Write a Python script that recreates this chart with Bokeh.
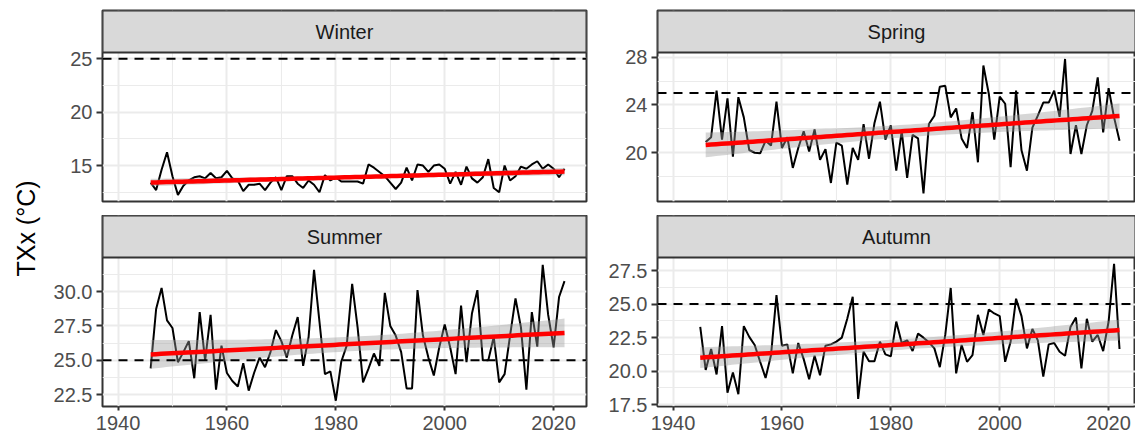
import numpy as np
from bokeh.plotting import figure
from bokeh.layouts import row, column
from bokeh.models import FixedTicker, PrintfTickFormatter, Span, Label, Grid, BoxAnnotation
from bokeh.embed import file_html
from bokeh.resources import INLINE

# ---------------- data ----------------
seasons = ["Winter", "Spring", "Summer", "Autumn"]
threshold = 25.0

winter_years = list(range(1946, 2023))
winter_txx = [13.4, 12.7, 14.6, 16.25,
              14.0, 12.25, 13.1, 13.6, 13.9, 14.0, 13.8, 14.3, 13.8, 13.9,
              14.5, 13.8, 13.6, 12.6, 13.2, 13.2, 13.3, 12.7, 13.4, 13.9,
              12.7, 14.0, 14.0, 13.3, 12.9, 13.6, 13.2, 12.5, 14.1, 13.6,
              13.9, 13.5, 13.5, 13.5, 13.5, 13.3, 15.1, 14.8, 14.4, 14.0,
              13.4, 12.8, 13.4, 14.8, 13.6, 15.1, 15.0, 14.4, 15.0, 15.1,
              14.7, 13.3, 14.4, 13.2, 14.9, 13.8, 13.4, 13.9, 15.6, 12.9,
              12.5, 15.0, 13.6, 14.0, 14.9, 14.7, 15.1, 15.4, 14.7, 15.1,
              14.7, 13.9, 14.7]

spring_years = list(range(1946, 2023))
spring_txx = [20.9, 21.3, 25.2, 21.1,
              24.55, 19.67, 24.65, 22.96, 20.23, 20.0, 19.95, 21.0, 20.6, 24.27,
              20.4, 21.3, 18.73, 20.4, 21.8, 20.1, 21.95, 19.4, 20.3, 17.47,
              20.85, 20.6, 17.33, 20.4, 19.4, 22.4, 19.5, 22.5, 24.27, 21.1,
              22.3, 18.5, 21.8, 17.9, 21.5, 21.2, 16.6, 22.4, 23.1, 25.53,
              25.6, 22.96, 23.7, 21.2, 20.4, 23.4, 19.2, 27.3, 24.92, 21.1,
              24.7, 24.1, 18.8, 25.2, 20.2, 18.5, 22.1, 23.1, 24.2, 24.2,
              25.2, 23.0, 27.85, 19.9, 22.3, 19.9, 22.3, 23.5, 26.3, 21.7,
              25.4, 22.96, 21.0]

summer_years = list(range(1946, 2023))
summer_txx = [24.42, 28.73, 30.26, 27.9,
              27.35, 24.87, 25.6, 26.4, 23.7, 28.5, 25.0, 28.3, 22.87, 26.07,
              24.08, 23.5, 23.1, 24.8, 22.8, 24.1, 25.2, 24.5, 25.6, 27.2,
              26.4, 25.2, 26.8, 28.15, 24.6, 26.7, 31.57, 27.8, 24.0, 24.2,
              22.07, 24.9, 26.07, 30.55, 27.4, 23.4, 24.4, 25.5, 24.6, 29.9,
              27.5, 26.8, 25.6, 22.96, 22.96, 30.1, 26.8, 25.2, 23.9, 25.95,
              27.6, 25.95, 24.0, 28.98, 24.87, 28.4, 30.1, 25.0, 25.0, 26.7,
              23.4, 24.0, 26.8, 29.5, 27.4, 22.87, 28.5, 26.0, 31.93, 28.3,
              25.95, 29.6, 30.75]

autumn_years = list(range(1945, 2023))
autumn_txx = [23.31, 20.09, 21.65, 19.76, 23.36,
              18.4, 19.9, 18.28, 23.36, 22.56, 21.95, 20.7, 19.5, 21.2, 25.67,
              21.9, 22.0, 19.84, 22.1, 20.9, 19.4, 21.15, 19.7, 21.9, 22.0,
              22.2, 22.5, 23.9, 25.55, 17.93, 21.45, 20.75, 20.75, 22.2, 21.25,
              21.1, 23.7, 22.1, 22.3, 21.5, 22.8, 22.5, 22.15, 21.7, 20.3,
              22.7, 26.2, 19.84, 21.95, 20.7, 21.2, 24.2, 22.7, 24.6, 24.3,
              24.1, 20.7, 22.2, 25.4, 24.1, 21.7, 23.15, 22.3, 19.6, 22.0,
              22.1, 21.45, 21.15, 23.3, 24.0, 20.2, 23.9, 22.2, 22.7, 21.5,
              23.7, 28.0, 21.65]

x_ticks = [1940, 1960, 1980, 2000, 2020]
x_minor = [1950, 1970, 1990, 2010]

winter_yticks = [15, 20, 25]
winter_yminor = [12.5, 17.5, 22.5]
spring_yticks = [20, 24, 28]
spring_yminor = [18, 22, 26]
summer_yticks = [22.5, 25.0, 27.5, 30.0]
summer_yminor = [23.75, 26.25, 28.75, 31.25]
autumn_yticks = [17.5, 20.0, 22.5, 25.0, 27.5]
autumn_yminor = [18.75, 21.25, 23.75, 26.25]

y_title = "TXx (°C)"

# ---------------- style / layout ----------------
FONT = "Liberation Sans"
TICK_FS = "20px"
STRIP_FS = "20px"
TITLE_FS = "25px"
X_START = 1937.15
PX_PER_YEAR = 5.445
LEFT_FRAME_W = 484
RIGHT_FRAME_W = 478
FRAME_H = 149
STRIP_H = 42
LAB_W = 46


def lm_band(x, y, n_eval=80, t=1.992):
    x = np.asarray(x, float)
    y = np.asarray(y, float)
    n = len(x)
    b, a = np.polyfit(x, y, 1)
    resid = y - (a + b * x)
    s = np.sqrt(np.sum(resid ** 2) / (n - 2))
    xm = x.mean()
    sxx = np.sum((x - xm) ** 2)
    xs = np.linspace(x.min(), x.max(), n_eval)
    fit = a + b * xs
    se = s * np.sqrt(1.0 / n + (xs - xm) ** 2 / sxx)
    return xs, fit, fit - t * se, fit + t * se


def make_panel(name, years, vals, y_lo, y_hi, y_ticks, y_minor, y_fmt,
               frame_w, bl, br, bt, bb, show_x):
    x_end = X_START + frame_w / PX_PER_YEAR
    y_end = y_hi + STRIP_H * (y_hi - y_lo) / FRAME_H   # room for the facet strip
    p = figure(width=bl + frame_w + br, height=bt + STRIP_H + FRAME_H + bb,
               x_range=(X_START, x_end), y_range=(y_lo, y_end),
               x_axis_location="below" if show_x else None,
               y_axis_location="left",
               toolbar_location=None, output_backend="svg",
               min_border_left=bl, min_border_right=br,
               min_border_top=bt, min_border_bottom=bb)
    p.grid.visible = False
    p.background_fill_color = "white"
    p.border_fill_color = "white"
    p.outline_line_color = "#333333"
    p.outline_line_width = 2

    for dim, ticks, minor in ((0, x_ticks, x_minor), (1, y_ticks, y_minor)):
        g = Grid(dimension=dim, ticker=FixedTicker(ticks=ticks, minor_ticks=minor))
        g.grid_line_color = "#ebebeb"
        g.grid_line_width = 2
        g.minor_grid_line_color = "#ebebeb"
        g.minor_grid_line_width = 1.1
        p.add_layout(g)

    axes = list(p.yaxis) + (list(p.xaxis) if show_x else [])
    for ax in axes:
        ax.axis_line_color = None
        ax.major_tick_line_color = "#333333"
        ax.major_tick_line_width = 2
        ax.major_tick_in = 0
        ax.minor_tick_line_color = None
        ax.major_label_text_font = FONT
        ax.major_label_text_font_size = TICK_FS
        ax.major_label_text_color = "#4d4d4d"
    p.yaxis.ticker = FixedTicker(ticks=y_ticks)
    p.yaxis.formatter = PrintfTickFormatter(format=y_fmt)
    p.yaxis.major_tick_out = 6
    p.yaxis.major_label_standoff = 4
    if show_x:
        p.xaxis.ticker = FixedTicker(ticks=x_ticks)
        p.xaxis.major_tick_out = 4
        p.xaxis.major_label_standoff = 5

    p.line(years, vals, line_color="black", line_width=2)
    xs, fit, lo, hi = lm_band(years, vals)
    p.varea(x=xs, y1=lo, y2=hi, fill_color="#999999", fill_alpha=0.4)
    p.line(xs, fit, line_color="#ff0000", line_width=4.5)
    p.add_layout(Span(location=threshold, dimension="width", line_color="black",
                      line_width=2, line_dash="9 7"))

    # facet strip
    p.add_layout(BoxAnnotation(bottom=y_hi, fill_color="#d9d9d9", fill_alpha=1.0,
                               line_color="#333333", line_alpha=1.0, line_width=2))
    p.add_layout(Label(x=(X_START + x_end) / 2, y=(y_hi + y_end) / 2, text=name,
                       text_align="center", text_baseline="middle", text_font=FONT,
                       text_font_size=STRIP_FS, text_color="#1a1a1a"))
    return p


LB, LR = 102 - LAB_W, 8   # left column borders
RB, RR = 63, 0            # right column borders

p_w = make_panel(seasons[0], winter_years, winter_txx, 11.63, 25.59,
                 winter_yticks, winter_yminor, "%d", LEFT_FRAME_W, LB, LR, 10, 14, False)
p_su = make_panel(seasons[2], summer_years, summer_txx, 21.65, 32.47,
                  summer_yticks, summer_yminor, "%.1f", LEFT_FRAME_W, LB, LR, 0, 32, True)
p_sp = make_panel(seasons[1], spring_years, spring_txx, 15.92, 28.39,
                  spring_yticks, spring_yminor, "%d", RIGHT_FRAME_W, RB, RR, 10, 14, False)
p_au = make_panel(seasons[3], autumn_years, autumn_txx, 17.37, 28.47,
                  autumn_yticks, autumn_yminor, "%.1f", RIGHT_FRAME_W, RB, RR, 0, 32, True)

TOTAL_H = (10 + STRIP_H + FRAME_H + 14) + (STRIP_H + FRAME_H + 32)
lab = figure(width=LAB_W, height=TOTAL_H, x_range=(0, LAB_W), y_range=(0, TOTAL_H),
             x_axis_location=None, y_axis_location=None,
             toolbar_location=None, output_backend="svg",
             min_border_left=0, min_border_right=0, min_border_top=0, min_border_bottom=0)
lab.grid.visible = False
lab.outline_line_color = None
lab.add_layout(Label(x=25, y=TOTAL_H - 228, text=y_title, angle=90, angle_units="deg",
                     text_align="center", text_baseline="middle", text_font=FONT,
                     text_font_size=TITLE_FS, text_color="black"))

layout = row(lab, column(p_w, p_su), column(p_sp, p_au))

open("out.html", "w").write(file_html(layout, INLINE))
